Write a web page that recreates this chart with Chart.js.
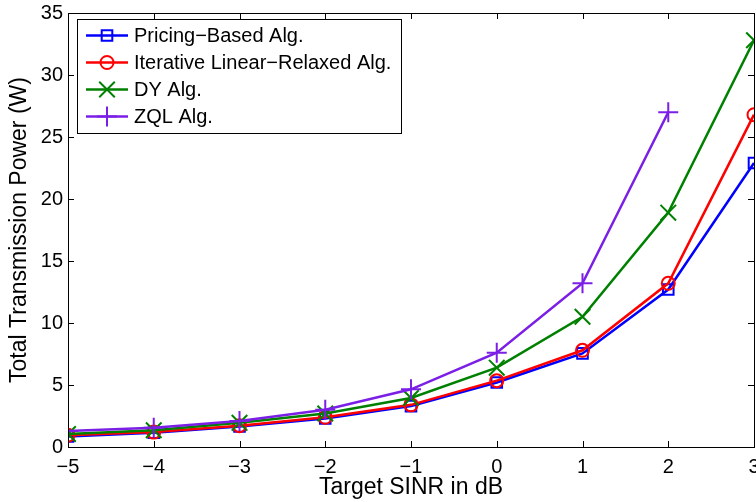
<!DOCTYPE html>
<html lang="en">
<head>
    <meta charset="UTF-8">
    <title>Total Transmission Power vs Target SINR</title>
    <script src="https://cdn.jsdelivr.net/npm/chart.js"></script>
    <style>
        html, body { margin: 0; padding: 0; background: #fff; overflow: hidden; }
        #wrap { position: relative; width: 756px; height: 502px; }
    </style>
</head>
<body>
    <div id="wrap"><canvas id="powerChart"></canvas></div>
    <script>
        // data
        const sinrDb = [-5, -4, -3, -2, -1, 0, 1, 2, 3];
        const pricingBased = [0.85, 1.15, 1.65, 2.3, 3.3, 5.2, 7.55, 12.7, 22.9];
        const iterativeRelaxed = [0.95, 1.2, 1.72, 2.4, 3.4, 5.35, 7.8, 13.2, 26.8];
        const dyAlg = [1.05, 1.35, 1.95, 2.7, 3.95, 6.4, 10.5, 18.9, 32.8];
        const zqlAlg = [1.3, 1.55, 2.1, 3.0, 4.65, 7.6, 13.2, 27.0, null];
        const seriesNames = ['Pricing\u2212Based Alg.', 'Iterative Linear\u2212Relaxed Alg.', 'DY Alg.', 'ZQL Alg.'];
        const xTicks = [-5, -4, -3, -2, -1, 0, 1, 2, 3];
        const yTicks = [0, 5, 10, 15, 20, 25, 30, 35];

        const FONT = 'Liberation Sans, Arial, Helvetica, sans-serif';
        const toPoints = arr => sinrDb.map((x, i) => ({ x: x, y: arr[i] }));
        const fmt = v => (v < 0 ? '\u2212' + Math.abs(v) : String(v));

        const styles = [
            { color: '#0000ff', pointStyle: 'rect', radius: 7.5 },
            { color: '#ff0000', pointStyle: 'circle', radius: 6.5 },
            { color: '#008000', pointStyle: 'crossRot', radius: 11 },
            { color: '#7b1fe6', pointStyle: 'cross', radius: 10 }
        ];
        const values = [pricingBased, iterativeRelaxed, dyAlg, zqlAlg];

        const datasets = values.map((arr, i) => ({
            label: seriesNames[i],
            data: toPoints(arr),
            borderColor: styles[i].color,
            backgroundColor: 'rgba(0,0,0,0)',
            borderWidth: 2.5,
            pointStyle: styles[i].pointStyle,
            pointRadius: styles[i].radius,
            pointBorderWidth: 2,
            pointBorderColor: styles[i].color,
            pointBackgroundColor: 'rgba(0,0,0,0)',
            order: 4 - i,
            tension: 0
        }));

        // MATLAB-like box, inward ticks and legend
        const boxPlugin = {
            id: 'matlabBox',
            afterDraw(chart) {
                const ctx = chart.ctx;
                const a = chart.chartArea;
                const xs = chart.scales.x, ys = chart.scales.y;
                ctx.save();
                ctx.strokeStyle = '#000';
                ctx.lineWidth = 1;
                const tl = 6;
                ctx.beginPath();
                xTicks.forEach(v => {
                    const px = Math.round(xs.getPixelForValue(v)) + 0.5;
                    ctx.moveTo(px, a.bottom); ctx.lineTo(px, a.bottom - tl);
                    ctx.moveTo(px, a.top); ctx.lineTo(px, a.top + tl);
                });
                yTicks.forEach(v => {
                    const py = Math.round(ys.getPixelForValue(v)) + 0.5;
                    ctx.moveTo(a.left, py); ctx.lineTo(a.left + tl, py);
                    ctx.moveTo(a.right, py); ctx.lineTo(a.right - tl, py);
                });
                ctx.stroke();
                ctx.strokeRect(Math.round(a.left) + 0.5, Math.round(a.top) + 0.5,
                    Math.round(a.right - a.left), Math.round(a.bottom - a.top));

                // legend
                const lx = 77, ly = 19, lw = 324, lh = 114;
                ctx.fillStyle = '#fff';
                ctx.fillRect(lx, ly, lw, lh);
                ctx.strokeRect(lx + 0.5, ly + 0.5, lw, lh);
                ctx.font = '20px ' + FONT;
                ctx.textBaseline = 'middle';
                ctx.textAlign = 'left';
                chart.data.datasets.forEach((ds, i) => {
                    const cy = 35.5 + i * 27;
                    ctx.strokeStyle = ds.borderColor;
                    ctx.lineWidth = 2.5;
                    ctx.beginPath();
                    ctx.moveTo(86, cy); ctx.lineTo(128, cy);
                    ctx.stroke();
                    ctx.lineWidth = 2;
                    ctx.fillStyle = 'rgba(0,0,0,0)';
                    Chart.helpers.drawPoint(ctx, {
                        pointStyle: ds.pointStyle, radius: ds.pointRadius,
                        rotation: 0, borderWidth: 2
                    }, 107, cy);
                    ctx.fillStyle = '#000';
                    ctx.fillText(ds.label, 134, cy + 1);
                });
                ctx.restore();
            }
        };

        new Chart(document.getElementById('powerChart'), {
            type: 'line',
            data: { datasets: datasets },
            options: {
                responsive: true,
                maintainAspectRatio: false,
                animation: false,
                layout: { autoPadding: false, padding: { top: 13, right: 2, left: 0, bottom: 0 } },
                plugins: { legend: { display: false }, tooltip: { enabled: false } },
                scales: {
                    x: {
                        type: 'linear', min: -5, max: 3,
                        afterBuildTicks: s => { s.ticks = xTicks.map(v => ({ value: v })); },
                        afterFit: s => { s.height = 55; s.paddingLeft = 0; s.paddingRight = 0; },
                        grid: { display: false, drawTicks: false },
                        border: { display: false },
                        ticks: { color: '#000', padding: 8, maxRotation: 0, autoSkip: false,
                            font: { family: FONT, size: 20 }, callback: v => fmt(v) },
                        title: { display: true, text: 'Target SINR in dB', color: '#000',
                            font: { family: FONT, size: 23 }, padding: { top: 0, bottom: 1 } }
                    },
                    y: {
                        min: 0, max: 35,
                        afterBuildTicks: s => { s.ticks = yTicks.map(v => ({ value: v })); },
                        afterFit: s => { s.width = 68; s.paddingTop = 0; s.paddingBottom = 0; },
                        grid: { display: false, drawTicks: false },
                        border: { display: false },
                        ticks: { color: '#000', padding: 5, autoSkip: false,
                            font: { family: FONT, size: 20 }, callback: v => fmt(v) },
                        title: { display: true, text: 'Total Transmission Power (W)', color: '#000',
                            font: { family: FONT, size: 23 }, padding: { top: 6, bottom: 0 } }
                    }
                }
            },
            plugins: [boxPlugin]
        });
    </script>
</body>
</html>
